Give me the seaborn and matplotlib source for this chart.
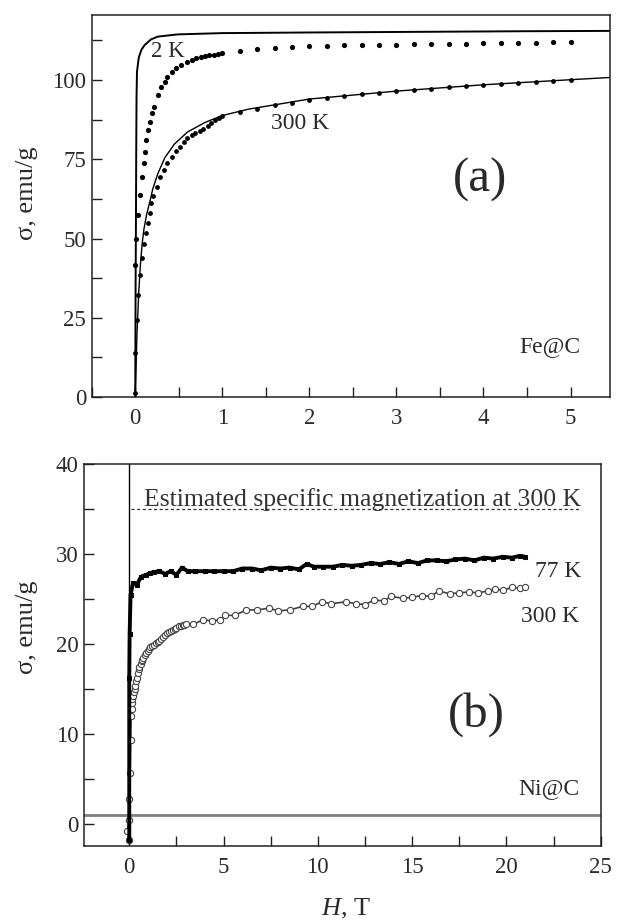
import numpy as np
import pandas as pd
import matplotlib
matplotlib.use("Agg")
import matplotlib.pyplot as plt
from matplotlib.ticker import MultipleLocator
import seaborn as sns

# ---------------- data: panel (a) Fe@C ----------------
fe2k_x = [0.0, 0.01, 0.03, 0.06, 0.08, 0.095, 0.107, 0.126, 0.145, 0.164, 0.19, 0.22,
          0.26, 0.30, 0.34, 0.37, 0.42, 0.47, 0.53, 0.59, 0.65, 0.70, 0.75, 0.80,
          0.85, 0.90, 0.95, 1.0, 1.2, 1.4, 1.6, 1.8, 2.0, 2.2, 2.4, 2.6, 2.8, 3.0,
          3.2, 3.4, 3.6, 3.8, 4.0, 4.2, 4.4, 4.6, 4.8, 5.0]
fe2k_y = [41.6, 50.0, 57.4, 63.7, 69.5, 73.7, 77.4, 81.1, 84.2, 86.8, 89.5, 91.6,
          95.3, 97.9, 99.5, 101.0, 102.6, 103.7, 104.7, 105.8, 106.4, 106.8, 107.2, 107.5,
          107.8, 108.0, 108.2, 108.4, 109.3, 109.8, 110.1, 110.4, 110.6, 110.8, 110.9, 111.0,
          111.1, 111.2, 111.3, 111.4, 111.5, 111.5, 111.6, 111.7, 111.7, 111.8, 111.9, 111.9]

fe300_x = [0.0, 0.0, 0.018, 0.03, 0.057, 0.076, 0.10, 0.118, 0.145, 0.164, 0.18, 0.20,
           0.25, 0.29, 0.33, 0.37, 0.42, 0.47, 0.51, 0.56, 0.60, 0.65, 0.69, 0.74,
           0.78, 0.83, 0.87, 0.92, 0.96, 1.0, 1.2, 1.4, 1.6, 1.8, 2.0, 2.2, 2.4, 2.6,
           2.8, 3.0, 3.2, 3.4, 3.6, 3.8, 4.0, 4.2, 4.4, 4.6, 4.8, 5.0]
fe300_y = [1.2, 13.8, 24.3, 32.2, 38.5, 43.7, 48.2, 51.8, 55.0, 58.1, 61.1, 63.5,
           66.3, 69.5, 71.6, 73.8, 75.8, 77.5, 79.0, 80.4, 81.6, 82.5, 83.2, 84.0,
           84.7, 85.5, 86.3, 87.3, 88.0, 88.5, 90.0, 91.0, 92.0, 92.8, 93.6, 94.3, 94.9, 95.5,
           96.0, 96.5, 96.9, 97.3, 97.7, 98.1, 98.4, 98.7, 99.0, 99.3, 99.6, 99.9]

fit2k_x = [0.0, 0.004, 0.008, 0.011, 0.015, 0.02, 0.04, 0.07, 0.107, 0.18, 0.26, 0.49,
           1.0, 1.5, 2.0, 3.25, 4.5, 5.45]
fit2k_y = [0.0, 35.0, 55.0, 75.0, 95.0, 102.6, 107.0, 109.5, 111.0, 112.8, 113.7, 114.4,
           114.8, 114.9, 115.0, 115.2, 115.4, 115.5]

fit300_x = [0.0, 0.02, 0.04, 0.06, 0.08, 0.10, 0.13, 0.18, 0.20, 0.26, 0.34, 0.45, 0.60,
            0.80, 1.0, 1.3, 2.0, 3.0, 4.0, 5.0, 5.45]
fit300_y = [0.0, 20.0, 33.0, 42.0, 48.5, 53.0, 57.5, 63.0, 65.5, 70.5, 75.5, 79.8, 83.6,
            86.6, 88.8, 90.8, 94.0, 96.5, 98.5, 100.1, 100.8]

# ---------------- data: panel (b) Ni@C ----------------
ni77_x = [0.0, 0.0, 0.02, 0.07, 0.2, 0.4, 0.63, 0.9, 1.1, 1.3, 1.6, 1.9, 2.2, 2.5, 2.8,
          3.1, 3.5, 4.0, 4.5, 5.0, 5.5, 6.0, 6.5, 7.0, 7.5, 8.0, 8.5, 9.0, 9.4, 9.8,
          10.3, 10.8, 11.3, 11.8, 12.3, 12.8, 13.3, 13.8, 14.3, 14.8, 15.3, 15.8, 16.3,
          16.8, 17.3, 17.8, 18.3, 18.8, 19.3, 19.8, 20.3, 20.7, 21.0]
ni77_y = [-1.7, 16.2, 21.1, 25.5, 26.8, 26.6, 27.5, 27.7, 27.9, 28.0, 28.1, 27.8, 28.1, 27.7, 28.5,
          28.1, 28.1, 28.1, 28.1, 28.1, 28.1, 28.4, 28.4, 28.2, 28.5, 28.4, 28.5, 28.3, 28.9, 28.6,
          28.6, 28.6, 28.8, 28.7, 28.8, 29.0, 28.9, 29.1, 28.9, 29.2, 29.0, 29.3, 29.3,
          29.2, 29.4, 29.5, 29.3, 29.6, 29.5, 29.7, 29.6, 29.8, 29.7]

ni300_x = [0.0, -0.1, 0.0, 0.0, 0.05, 0.08, 0.10, 0.12, 0.15, 0.17, 0.20, 0.24, 0.28,
           0.31, 0.35, 0.40, 0.45, 0.50, 0.54, 0.60, 0.65, 0.70, 0.75, 0.82, 0.90, 0.97,
           1.05, 1.12, 1.20, 1.30, 1.43, 1.50, 1.60, 1.70, 1.80, 1.90, 2.00, 2.10, 2.20,
           2.30, 2.40, 2.50, 2.66, 2.75, 2.85, 2.90, 3.0,
           3.4, 3.9, 4.4, 4.8, 5.1, 5.6, 6.2, 6.8, 7.4, 7.9, 8.5, 9.2, 9.7, 10.2, 10.7,
           11.5, 12.0, 12.5, 13.0, 13.5, 13.9, 14.5, 15.0, 15.5, 16.0, 16.4, 17.0, 17.5,
           18.0, 18.5, 19.0, 19.4, 19.8, 20.3, 20.7, 21.0]
ni300_y = [-1.7, -0.7, 0.5, 2.8, 5.7, 9.4, 12.0, 12.8, 13.5, 13.9, 14.3, 14.7, 15.0,
           15.4, 15.9, 16.3, 16.8, 17.2, 17.5, 17.8, 18.1, 18.3, 18.5, 18.8, 19.0, 19.3,
           19.5, 19.65, 19.8, 19.95, 20.1, 20.2, 20.4, 20.6, 20.8, 21.0, 21.2, 21.35, 21.5,
           21.6, 21.7, 21.8, 22.0, 22.05, 22.1, 22.15, 22.2,
           22.2, 22.7, 22.6, 22.7, 23.2, 23.2, 23.8, 23.8, 24.0, 23.7, 23.8, 24.2, 24.2, 24.7, 24.5,
           24.7, 24.5, 24.4, 24.9, 24.8, 25.3, 25.1, 25.2, 25.4, 25.3, 25.9, 25.6, 25.7,
           25.8, 25.7, 25.9, 26.1, 26.0, 26.3, 26.2, 26.4]

est_level = 35.0
base_level = 1.0

# ---------------- style ----------------
sns.set_theme(style="ticks")
plt.rcParams["font.family"] = ["Liberation Serif", "DejaVu Serif"]
plt.rcParams["mathtext.fontset"] = "custom"
plt.rcParams["mathtext.rm"] = "Liberation Serif"
plt.rcParams["mathtext.it"] = "Liberation Serif:italic"

TXT = "#2a2a2a"
fig = plt.figure(figsize=(6.18, 9.23), dpi=100)
axa = fig.add_axes([0.1484, 0.5699, 0.8382, 0.4138])
axb = fig.add_axes([0.1359, 0.0834, 0.8361, 0.4139])


def style_axis(ax):
    for s in ax.spines.values():
        s.set_linewidth(1.1)
        s.set_color("#222222")
    ax.tick_params(which="both", direction="in", length=7, width=1.0,
                   colors="#222222", top=False, right=False, labelsize=16.5,
                   labelcolor=TXT)
    ax.tick_params(axis="x", which="both", pad=8)
    ax.tick_params(axis="y", which="both", pad=4)


# ---------------- panel (a) ----------------
sns.lineplot(x=fit2k_x, y=fit2k_y, sort=False, estimator=None, color="black",
             lw=1.4, ax=axa)
sns.lineplot(x=fit300_x, y=fit300_y, sort=False, estimator=None, color="black",
             lw=1.0, ax=axa)
sns.scatterplot(x=fe2k_x, y=fe2k_y, color="black", s=14, linewidth=0, ax=axa)
sns.scatterplot(x=fe300_x, y=fe300_y, color="black", s=12, linewidth=0, ax=axa)

axa.set_xlim(-0.5, 5.45)
axa.set_ylim(0, 120.5)
axa.xaxis.set_major_locator(MultipleLocator(1))
axa.xaxis.set_minor_locator(MultipleLocator(0.5))
axa.yaxis.set_major_locator(MultipleLocator(25))
axa.yaxis.set_minor_locator(MultipleLocator(12.5))
style_axis(axa)
axa.set_ylabel("σ, emu/g", fontsize=19, color=TXT)
axa.yaxis.set_label_coords(-0.103, 0.534)

axa.text(0.18, 108.9, "2 K", fontsize=16.5, color=TXT, ha="left", va="center")
axa.text(1.56, 86.3, "300 K", fontsize=17, color=TXT, ha="left", va="center")
axa.text(3.96, 68.5, "(a)", fontsize=35, color=TXT, ha="center", va="center")
axa.text(5.11, 15.9, "Fe@C", fontsize=17, color=TXT, ha="right", va="center")

# ---------------- panel (b) ----------------
axb.axvline(0, color="black", lw=1.0)
axb.axhline(base_level, color="#808080", lw=2.0)
sns.lineplot(x=[0.1, 23.95], y=[est_level, est_level], color="#333333", lw=0.9,
             linestyle=(0, (2.5, 2)), ax=axb)
sns.lineplot(x=ni300_x, y=ni300_y, sort=False, estimator=None, color="#404040",
             lw=1.2, marker="o", markersize=4.5, markerfacecolor="white",
             markeredgecolor="#444444", markeredgewidth=0.8, ax=axb)
sns.lineplot(x=ni77_x, y=ni77_y, sort=False, estimator=None, color="black",
             lw=2.8, marker="s", markersize=3.5, markerfacecolor="black",
             markeredgecolor="black", ax=axb)

axb.set_xlim(-2.4, 25.0)
axb.set_ylim(-2.4, 40)
axb.xaxis.set_major_locator(MultipleLocator(5))
axb.xaxis.set_minor_locator(MultipleLocator(2.5))
axb.yaxis.set_major_locator(MultipleLocator(10))
axb.yaxis.set_minor_locator(MultipleLocator(5))
style_axis(axb)
axb.set_ylabel("σ, emu/g", fontsize=19, color=TXT)
axb.yaxis.set_label_coords(-0.089, 0.573)
axb.set_xlabel("$H$, T", fontsize=19, color=TXT)
axb.xaxis.set_label_coords(0.508, -0.133)

axb.text(0.8, 35.35, "Estimated specific magnetization at 300 K", fontsize=18.5,
         color="#333333", ha="left", va="baseline")
axb.text(21.5, 28.1, "77 K", fontsize=17, color=TXT, ha="left", va="center")
axb.text(20.8, 23.1, "300 K", fontsize=17, color=TXT, ha="left", va="center")
axb.text(18.4, 12.2, "(b)", fontsize=35, color=TXT, ha="center", va="center")
axb.text(23.9, 3.96, "Ni@C", fontsize=17, color=TXT, ha="right", va="center")

fig.savefig("out.png", dpi=100)
